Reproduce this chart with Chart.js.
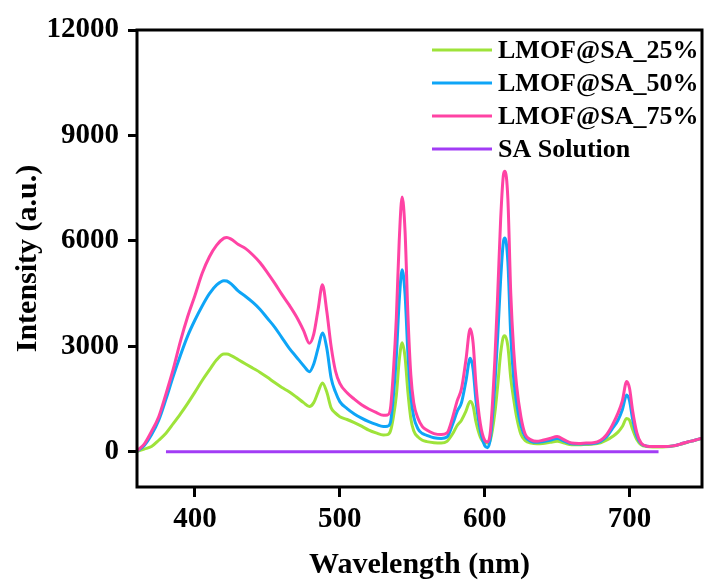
<!DOCTYPE html>
<html>
<head>
<meta charset="utf-8">
<script src="https://cdn.jsdelivr.net/npm/chart.js@4/dist/chart.umd.min.js"></script>
<style>
  html, body { margin: 0; padding: 0; background: #ffffff; }
  #wrap { width: 704px; height: 584px; }
</style>
</head>
<body>
<div id="wrap"><canvas id="c" width="704" height="584"></canvas></div>
<script>
// ---- data ----
const wavelengths = [
  360,365,370,375,380,385,390,395,400,405,
  410,415,420,422,425,430,435,440,445,450,
  455,460,465,470,475,479,482,485,488,491,
  494,497,500,505,510,515,520,525,530,533,
  535,537,539,541,543,545,547,549,551,554,
  557,560,565,570,574,578,581,584,587,590,
  592,594,597,600,602,604,607,609,611,613,
  614,616,618,620,622,625,628,632,636,640,
  645,650,655,660,665,670,675,680,684,688,
  692,695,698,700,702,705,708,712,716,720,
  725,730,735,740,745,750
];
const lmof25 = [
  10,80,152,330,530,800,1080,1380,1700,2030,
  2330,2620,2780,2780,2740,2620,2500,2380,2260,2120,
  1970,1830,1710,1560,1400,1290,1400,1700,1960,1700,
  1250,1100,1000,920,830,730,620,540,480,490,
  600,1000,1600,2600,3100,2700,1700,950,600,420,
  330,290,260,250,300,520,750,900,1150,1440,
  1300,850,420,260,250,350,1100,1900,2800,3280,
  3300,3000,2100,1500,1000,500,320,250,230,240,
  270,300,250,200,200,210,220,260,330,430,
  560,720,950,900,650,350,200,150,140,140,
  145,165,215,275,325,385
];
const lmof50 = [
  20,180,483,900,1500,2150,2750,3300,3750,4150,
  4500,4750,4870,4860,4780,4570,4420,4250,4050,3800,
  3550,3250,2950,2700,2450,2280,2500,2950,3380,2950,
  2100,1700,1430,1230,1080,960,860,780,720,730,
  850,1600,2700,4300,5180,4500,2800,1600,1000,650,
  520,470,400,380,420,800,1150,1400,2000,2660,
  2350,1450,600,180,120,400,1900,3300,4900,6000,
  6080,5400,3300,2100,1400,750,420,300,270,290,
  330,380,300,230,220,230,240,300,420,650,
  900,1200,1620,1450,950,450,230,160,150,150,
  150,170,220,280,330,390
];
const lmof75 = [
  30,220,578,1000,1650,2350,3150,3850,4450,5080,
  5550,5880,6080,6100,6050,5900,5780,5600,5380,5100,
  4800,4480,4180,3850,3450,3090,3350,4050,4750,4000,
  3000,2300,1950,1680,1500,1340,1220,1120,1040,1050,
  1250,2300,3800,6000,7250,6300,3900,2200,1400,950,
  720,620,520,490,540,1000,1450,1800,2600,3500,
  3100,1900,800,330,280,600,2600,4500,6600,7900,
  7980,7200,4500,2900,1900,1000,500,340,300,330,
  380,440,340,250,240,250,260,330,480,750,
  1100,1450,2000,1800,1200,550,250,160,150,150,
  150,170,220,280,330,390
];
const saWavelengths = [380, 450, 550, 650, 720];
const saSolution    = [0, 0, 0, 0, 0];

const seriesLabels = ['LMOF@SA_25%', 'LMOF@SA_50%', 'LMOF@SA_75%', 'SA Solution'];
const seriesColors = ['#9ee33a', '#0ea5f7', '#ff43a4', '#a23cf5'];
const xTicks = [400, 500, 600, 700];
const yTicks = [0, 3000, 6000, 9000, 12000];

// ---- build datasets ----
function pts(xs, ys) { return xs.map((x, i) => ({ x: x, y: ys[i] })); }
const datasets = [
  { label: seriesLabels[0], data: pts(wavelengths, lmof25), borderColor: seriesColors[0], order: 2 },
  { label: seriesLabels[1], data: pts(wavelengths, lmof50), borderColor: seriesColors[1], order: 1 },
  { label: seriesLabels[2], data: pts(wavelengths, lmof75), borderColor: seriesColors[2], order: 0 },
  { label: seriesLabels[3], data: pts(saWavelengths, saSolution), borderColor: seriesColors[3], order: 3 }
].map(d => Object.assign(d, {
  borderWidth: 3, pointRadius: 0, fill: false, cubicInterpolationMode: 'monotone'
}));

const FONT = '"Liberation Serif", "Times New Roman", serif';

// frame around the plot area
const framePlugin = {
  id: 'frame',
  afterDatasetsDraw(chart) {
    const { ctx, chartArea: a } = chart;
    ctx.save();
    ctx.strokeStyle = '#000';
    ctx.lineWidth = 3;
    ctx.strokeRect(a.left, a.top, a.right - a.left, a.bottom - a.top);
    ctx.restore();
  }
};

// legend inside the plot, top right
const legendPlugin = {
  id: 'innerLegend',
  afterDraw(chart) {
    const { ctx } = chart;
    const x0 = 432, x1 = 492, tx = 498, y0 = 50, dy = 33;
    ctx.save();
    ctx.font = 'bold 26px ' + FONT;
    ctx.textBaseline = 'middle';
    ctx.textAlign = 'left';
    chart.data.datasets.forEach((ds, i) => {
      const y = y0 + i * dy;
      ctx.strokeStyle = ds.borderColor;
      ctx.lineWidth = 3;
      ctx.beginPath();
      ctx.moveTo(x0, y);
      ctx.lineTo(x1, y);
      ctx.stroke();
      ctx.fillStyle = '#000';
      ctx.fillText(ds.label, tx, y + 1);
    });
    ctx.restore();
  }
};

new Chart(document.getElementById('c'), {
  type: 'line',
  data: { datasets: datasets },
  options: {
    responsive: false,
    animation: false,
    events: [],
    layout: { padding: { top: 30, right: 2, left: 0, bottom: 0 } },
    plugins: { legend: { display: false }, tooltip: { enabled: false } },
    scales: {
      x: {
        type: 'linear',
        min: 360, max: 750,
        afterBuildTicks: (s) => { s.ticks = xTicks.map(v => ({ value: v })); },
        afterFit: (s) => { s.height = 97; },
        border: { display: false },
        grid: { drawOnChartArea: false, drawTicks: true, tickLength: 10, color: '#000', lineWidth: 3 },
        ticks: {
          color: '#000', padding: 5, maxRotation: 0, autoSkip: false,
          font: { family: FONT, size: 29, weight: 'bold' },
          callback: (v) => String(v)
        },
        title: {
          display: true, text: 'Wavelength (nm)', color: '#000',
          font: { family: FONT, size: 30, weight: 'bold' },
          padding: { top: 0, bottom: 1 }
        }
      },
      y: {
        type: 'linear',
        min: -1000, max: 12000,
        afterBuildTicks: (s) => { s.ticks = yTicks.map(v => ({ value: v })); },
        afterFit: (s) => { s.width = 137; },
        border: { display: false },
        grid: { drawOnChartArea: false, drawTicks: true, tickLength: 9, color: '#000', lineWidth: 3 },
        ticks: {
          color: '#000', padding: 9, autoSkip: false,
          font: { family: FONT, size: 29, weight: 'bold' },
          callback: (v) => String(v)
        },
        title: {
          display: true, text: 'Intensity (a.u.)', color: '#000',
          font: { family: FONT, size: 30, weight: 'bold' },
          padding: { top: 10, bottom: 0 }
        }
      }
    }
  },
  plugins: [framePlugin, legendPlugin]
});
</script>
</body>
</html>
